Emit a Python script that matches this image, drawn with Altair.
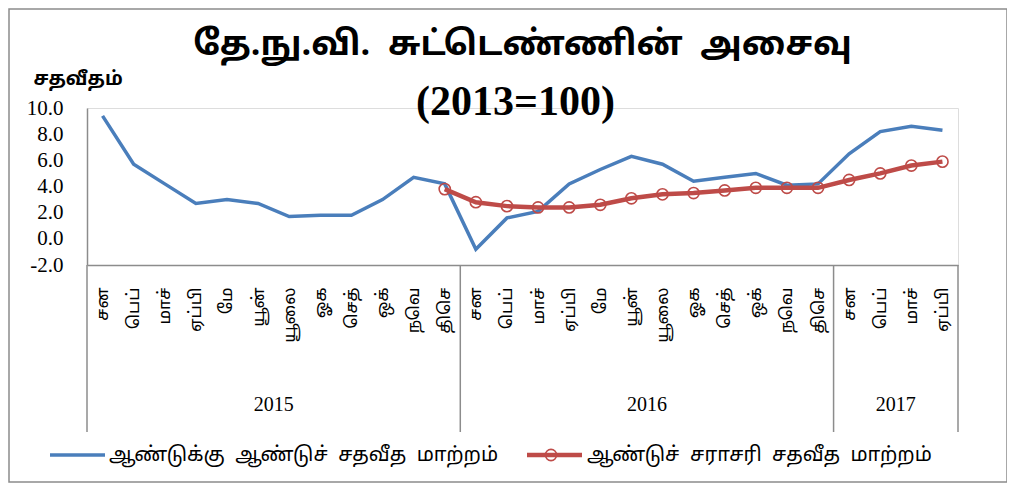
import altair as alt
import pandas as pd

months = ["சன", "பெப்", "மாச்", "ஏப்பி", "மே", "யூன்", "யூலை", "ஓக", "செத்", "ஒக்", "நவெ", "திசெ"]
years = ["2015", "2016", "2017"]
year_counts = [12, 12, 4]

yoy = [9.4, 5.7, 4.2, 2.7, 3.0, 2.7, 1.7, 1.8, 1.8, 3.0, 4.7, 4.2,
       -0.8, 1.6, 2.1, 4.2, 5.3, 6.3, 5.7, 4.4, 4.7, 5.0, 4.1, 4.2,
       6.5, 8.2, 8.6, 8.3]
avg_start = 11
avg = [3.8, 2.8, 2.5, 2.4, 2.4, 2.6, 3.1, 3.4, 3.5, 3.7, 3.9, 3.9, 3.9,
       4.5, 5.0, 5.6, 5.9]

NB = "\u00a0\u00a0"
s1 = NB.join(["ஆண்டுக்கு", "ஆண்டுச்", "சதவீத", "மாற்றம்"])
s2 = NB.join(["ஆண்டுச்", "சராசரி", "சதவீத", "மாற்றம்"])
title_main = NB.join(["தே.நு.வி.", "சுட்டெண்ணின்", "அசைவு"])
title_sub = "(2013=100)"
y_title = "சதவீதம்"

BLUE = "#4A7EBB"
RED = "#BE4B48"
GRAY = "#8C8C8C"
TAMIL = "Noto Sans Tamil, Noto Sans, sans-serif"
SERIF = "Liberation Serif, Times New Roman, serif"

n = len(yoy)
df1 = pd.DataFrame({"idx": list(range(n)), "v": yoy})
df2 = pd.DataFrame({"idx": list(range(avg_start, avg_start + len(avg))), "v": avg})

# year groups
starts, ends, centers = [], [], []
s = 0
for c in year_counts:
    starts.append(s - 0.5)
    ends.append(s + c - 0.5)
    centers.append(s + (c - 1) / 2)
    s += c
dfy = pd.DataFrame({"year": years, "c": centers})
dfsep = pd.DataFrame({"b": [starts[0]] + ends})

W, H = 871, 157
month_js = "[" + ",".join("'" + m + "'" for m in months) + "]"

xscale = alt.Scale(domain=[-0.5, n - 0.5], nice=False, zero=False)
yscale = alt.Scale(domain=[-2, 10], nice=False)

xaxis = alt.Axis(values=list(range(n)), labelExpr=month_js + "[datum.value % 12]",
                 labelAngle=270, labelAlign="right", labelBaseline="middle",
                 labelPadding=22, labelFont=TAMIL, labelFontSize=17, labelColor="black",
                 ticks=False, grid=False, domainColor=GRAY, domainWidth=1.5, title=None,
                 labelOverlap=False, labelFlush=False, labelBound=False)
yaxis = alt.Axis(values=[-2, 0, 2, 4, 6, 8, 10],
                 labelExpr="(datum.value < 0 ? '-' : '') + format(abs(datum.value), '.1f')",
                 labelFont=SERIF,
                 labelFontSize=21, labelColor="black", labelPadding=24, ticks=False,
                 grid=False, domainColor=GRAY, domainWidth=1.5, labelOverlap=False,
                 title=y_title, titleAngle=0, titleFont=TAMIL, titleFontSize=19,
                 titleFontWeight="bold", titleColor="black", titleX=-54, titleY=-30,
                 titleAlign="left", titleBaseline="middle")

X = lambda f: alt.X(f, scale=xscale, axis=xaxis)
Y = lambda f: alt.Y(f, scale=yscale, axis=yaxis)

line1 = alt.Chart(df1).mark_line(color=BLUE, strokeWidth=3.5).encode(x=X("idx:Q"), y=Y("v:Q"))
base2 = alt.Chart(df2)
line2 = base2.mark_line(color=RED, strokeWidth=4.5).encode(x=X("idx:Q"), y=Y("v:Q"))
pts2 = base2.mark_point(color=RED, filled=False, size=125, strokeWidth=1.6, opacity=1).encode(
    x=X("idx:Q"), y=Y("v:Q"))

seps = alt.Chart(dfsep).mark_rule(color=GRAY, strokeWidth=1.5).encode(
    x=X("b:Q"), y=alt.value(H), y2=alt.value(H + 167))
yr = alt.Chart(dfy).mark_text(font=SERIF, fontSize=20, color="black", baseline="middle").encode(
    x=X("c:Q"), y=alt.value(297), text="year:N")

# titles
tdf = pd.DataFrame({"t": [title_main, title_sub]})
t_main = alt.Chart(tdf.iloc[[0]]).mark_text(font=TAMIL, fontSize=34, fontWeight="bold",
                                            color="black", baseline="middle").encode(
    x=alt.value(W / 2), y=alt.value(-63), text="t:N")
t_sub = alt.Chart(tdf.iloc[[1]]).mark_text(font=SERIF, fontSize=42, fontWeight="bold",
                                           color="black", baseline="middle").encode(
    x=alt.value(W / 2 - 7), y=alt.value(-6), text="t:N")

# legend
leg = pd.DataFrame({"lab": [s1, s2]})
leg_l1 = alt.Chart(leg.iloc[[0]]).mark_rule(color=BLUE, strokeWidth=3.5).encode(
    x=alt.value(-37), x2=alt.value(18), y=alt.value(347))
leg_t1 = alt.Chart(leg.iloc[[0]]).mark_text(font=TAMIL, fontSize=20, color="black",
                                            align="left", baseline="middle").encode(
    x=alt.value(22), y=alt.value(347), text="lab:N")
leg_l2 = alt.Chart(leg.iloc[[1]]).mark_rule(color=RED, strokeWidth=4.5).encode(
    x=alt.value(440), x2=alt.value(495), y=alt.value(347))
leg_p2 = alt.Chart(leg.iloc[[1]]).mark_point(color=RED, filled=False, size=125, strokeWidth=1.6,
                                             opacity=1).encode(x=alt.value(464), y=alt.value(347))
leg_t2 = alt.Chart(leg.iloc[[1]]).mark_text(font=TAMIL, fontSize=20, color="black",
                                            align="left", baseline="middle").encode(
    x=alt.value(500), y=alt.value(347), text="lab:N")

frame = alt.Chart(leg.iloc[[0]]).mark_rect(fill=None, fillOpacity=0, stroke=GRAY, strokeWidth=1.5).encode(
    x=alt.value(-78), x2=alt.value(920), y=alt.value(-99), y2=alt.value(374))

chart = alt.layer(line1, line2, pts2, seps, yr, t_main, t_sub,
                  leg_l1, leg_t1, leg_l2, leg_p2, leg_t2, frame).properties(
    width=W, height=H,
    autosize=alt.AutoSizeParams(type="none"),
    padding={"left": 79, "top": 100, "right": 49, "bottom": 218},
).configure_view(strokeWidth=0, stroke="transparent").configure_axis(labelOverlap=False).configure(background="white")

chart.save("out.html", embed_options={"renderer": "svg", "actions": False})
